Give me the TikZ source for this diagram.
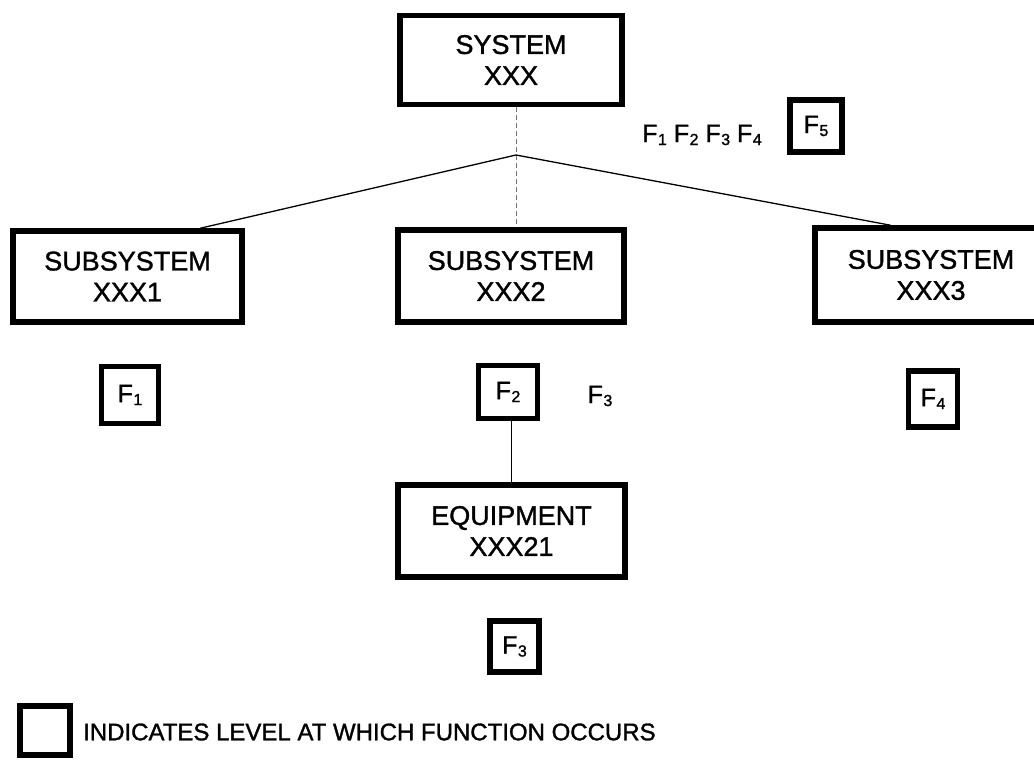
\documentclass[tikz,border=0pt]{standalone}
\usepackage{fontspec}
\setmainfont{Liberation Sans}[FakeBold=1.3]
\usetikzlibrary{calc}
\newcommand\Fsub[1]{F\kern0.5pt\raisebox{-3pt}{\fontsize{16}{16}\selectfont #1}}
\begin{document}
\begin{tikzpicture}[x=1pt,y=-1pt,
  box/.style={draw, line width=5.5pt, inner sep=0pt, align=center, font=\fontsize{27}{31}\selectfont},
  fbox/.style={draw, line width=5.5pt, inner sep=0pt, font=\fontsize{25}{25}\selectfont},
  ftext/.style={inner sep=0pt, font=\fontsize{25}{25}\selectfont},
  conn/.style={line width=1.3pt},
  dashconn/.style={line width=0.9pt, dash pattern=on 5pt off 3pt, black!55}]
\useasboundingbox (0,0) rectangle (1034,760);

\node[box, minimum width=222pt, minimum height=89pt] (sys) at (511,60) {SYSTEM\\XXX};
\node[box, minimum width=229pt, minimum height=91pt] (s1) at (127.5,276.5) {SUBSYSTEM\\XXX1};
\node[box, minimum width=226pt, minimum height=92pt] (s2) at (511,276) {SUBSYSTEM\\XXX2};
\node[box, minimum width=232pt, minimum height=94pt] (s3) at (931,275) {SUBSYSTEM\\XXX3};
\node[box, minimum width=227pt, minimum height=92pt] (eq) at (511.5,531) {EQUIPMENT\\XXX21};

\node[ftext] (frow) at (702,135) {\Fsub{1} \Fsub{2} \Fsub{3} \Fsub{4}};
\node[fbox, minimum width=52pt, minimum height=52pt] (f5) at (816,126) {\Fsub{5}};
\node[fbox, minimum width=57pt, minimum height=57pt] (f1) at (130,395) {\Fsub{1}};
\node[fbox, minimum width=59pt, minimum height=53pt] (f2) at (508,392) {\Fsub{2}};
\node[ftext] (f3t) at (600,396) {\Fsub{3}};
\node[fbox, minimum width=49pt, minimum height=56pt] (f4) at (933,399) {\Fsub{4}};
\node[fbox, minimum width=49pt, minimum height=51pt] (f3b) at (514.5,646.5) {\Fsub{3}};

\node[draw, line width=5.5pt, inner sep=0pt, minimum width=50pt, minimum height=49pt] (leg) at (45,730.5) {};
\node[anchor=west, inner sep=0pt, font=\fontsize{24}{26}\selectfont] (legtext) at (83,732) {INDICATES LEVEL AT WHICH FUNCTION OCCURS};

\coordinate (apex) at (516,155);
\draw[dashconn] (sys.south -| apex) -- (s2.north -| apex);
\draw[conn] (apex) -- ($(s1.north west)!0.81!(s1.north east)$);
\draw[conn] (apex) -- ($(s3.north west)!0.33!(s3.north east)$);
\draw[conn] (eq.north |- f2.south) -- (eq.north);
\end{tikzpicture}
\end{document}
